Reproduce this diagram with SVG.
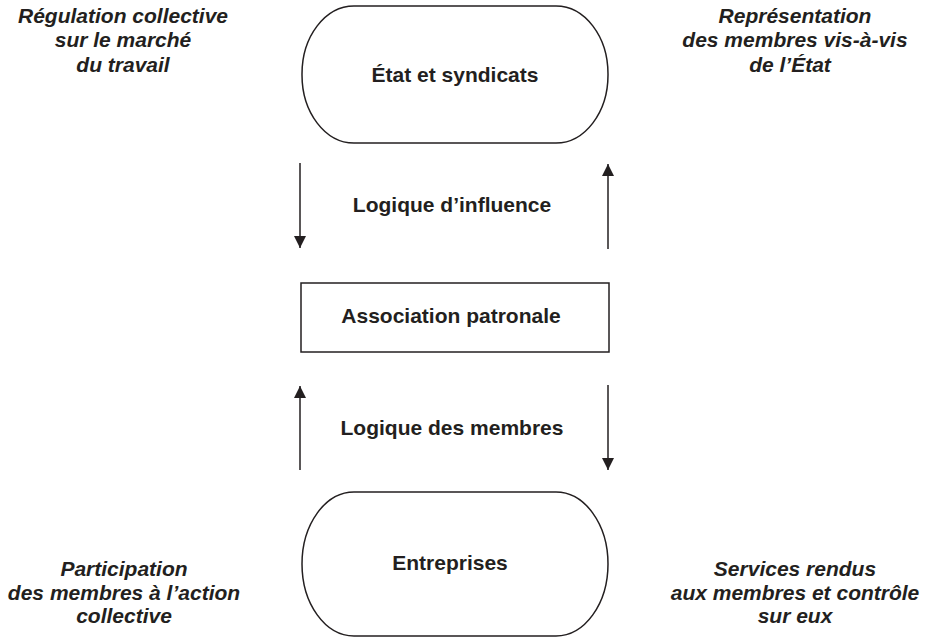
<svg xmlns="http://www.w3.org/2000/svg" width="929" height="638" viewBox="0 0 929 638">
<style>
.shape{fill:#fff;stroke:#231f20;stroke-width:1.5}
.lbl{font-family:"Liberation Sans",Arial,sans-serif;font-weight:bold;font-size:21px;fill:#231f20;text-anchor:middle}
.it{font-family:"Liberation Sans",Arial,sans-serif;font-weight:bold;font-style:italic;font-size:21px;fill:#231f20;text-anchor:middle}
.conn{stroke:#231f20;stroke-width:1.5;fill:none;marker-end:url(#ah)}
</style>
<defs>
<marker id="ah" viewBox="0 0 12 12" refX="12" refY="6" markerWidth="12" markerHeight="12" markerUnits="userSpaceOnUse" orient="auto">
<path d="M0,0 L12,6 L0,12 z" fill="#231f20"/>
</marker>
</defs>
<rect width="929" height="638" fill="#fff"/>
<g id="etat">
<rect class="shape" x="302" y="6" width="306" height="137" rx="52" ry="68"/>
<text class="lbl" x="455" y="82">État et syndicats</text>
</g>
<g id="association">
<rect class="shape" x="301" y="283" width="308" height="69"/>
<text class="lbl" x="451" y="323">Association patronale</text>
</g>
<g id="entreprises">
<rect class="shape" x="302" y="492" width="306" height="144" rx="52" ry="72"/>
<text class="lbl" x="450" y="570">Entreprises</text>
</g>
<g id="connectors">
<line class="conn" x1="300" y1="163" x2="300" y2="248"/>
<line class="conn" x1="608" y1="249" x2="608" y2="164"/>
<line class="conn" x1="300" y1="470" x2="300" y2="386"/>
<line class="conn" x1="608" y1="385" x2="608" y2="470"/>
</g>
<g id="labels">
<text class="lbl" x="452" y="212">Logique d’influence</text>
<text class="lbl" x="452" y="435">Logique des membres</text>
<text class="it" x="123" y="23">Régulation collective</text>
<text class="it" x="123" y="47">sur le marché</text>
<text class="it" x="123" y="72">du travail</text>
<text class="it" x="795" y="23">Représentation</text>
<text class="it" x="795" y="47">des membres vis-à-vis</text>
<text class="it" x="790" y="72">de l’État</text>
<text class="it" x="124" y="576">Participation</text>
<text class="it" x="124" y="600">des membres à l’action</text>
<text class="it" x="124" y="623">collective</text>
<text class="it" x="795" y="576">Services rendus</text>
<text class="it" x="795" y="600">aux membres et contrôle</text>
<text class="it" x="795" y="623">sur eux</text>
</g>
</svg>
